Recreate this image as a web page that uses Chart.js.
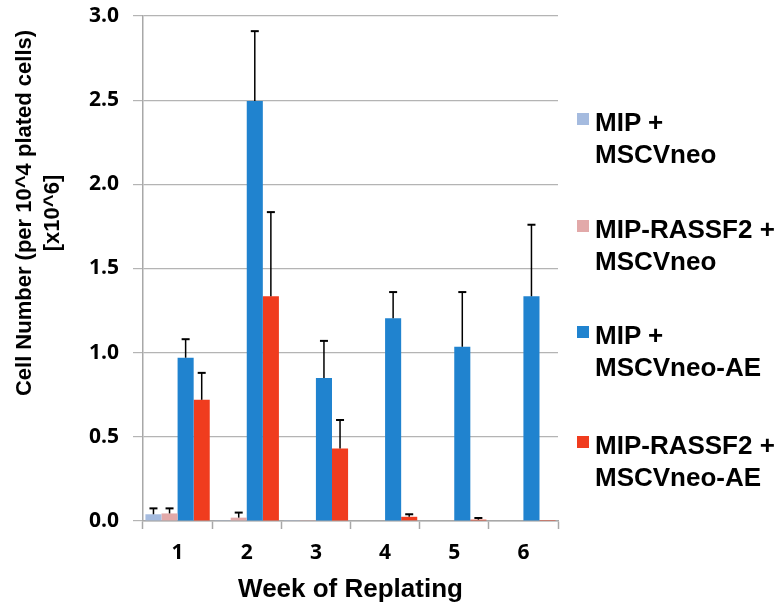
<!DOCTYPE html>
<html>
<head>
<meta charset="utf-8">
<script src="https://cdn.jsdelivr.net/npm/chart.js@4"></script>
<style>
  html, body { margin:0; padding:0; background:#fff; }
  #wrap { position:relative; width:779px; height:602px; }
  #legend { position:absolute; left:0; top:0; }
  .item { position:absolute; left:577px; }
  .sw { position:absolute; left:0; width:12px; height:12px; }
  .lbl { position:absolute; left:18px; font:bold 26px "Liberation Sans", Arial, sans-serif; line-height:32px; white-space:nowrap; color:#000; }
</style>
</head>
<body>
<div id="wrap">
  <canvas id="chart" width="779" height="602"></canvas>
  <div id="legend"></div>
</div>
<script>
// --- data ---
const weeks = ['1', '2', '3', '4', '5', '6'];
const seriesNames = [
  ['MIP +', 'MSCVneo'],
  ['MIP-RASSF2 +', 'MSCVneo'],
  ['MIP +', 'MSCVneo-AE'],
  ['MIP-RASSF2 +', 'MSCVneo-AE']
];
const yTitle = ['Cell Number (per 10^4 plated cells)', '[x10^6]'];
const colors = ['#a5bbdf', '#e2a9a9', '#2083cf', '#f03c1e'];

const mipNeo      = [0.04, 0.005, 0.002, 0, 0, 0];
const rassfNeo    = [0.045, 0.02, 0.005, 0, 0, 0];
const mipAE       = [0.97, 2.495, 0.85, 1.205, 1.035, 1.335];
const rassfAE     = [0.72, 1.335, 0.43, 0.025, 0.008, 0.006];

// upper error (SD)
const mipNeoErr   = [0.035, 0, 0, 0, 0, 0];
const rassfNeoErr = [0.03, 0.03, 0, 0, 0, 0];
const mipAEErr    = [0.11, 0.415, 0.22, 0.155, 0.325, 0.425];
const rassfAEErr  = [0.16, 0.50, 0.17, 0.015, 0.01, 0];

const values = [mipNeo, rassfNeo, mipAE, rassfAE];
const errors = [mipNeoErr, rassfNeoErr, mipAEErr, rassfAEErr];

// error bars, only the upper half like the original
const errorBars = {
  id: 'errorBars',
  afterDatasetsDraw(chart){
    const ctx = chart.ctx, y = chart.scales.y;
    ctx.save();
    ctx.strokeStyle = '#000';
    chart.data.datasets.forEach((ds, i) => {
      const meta = chart.getDatasetMeta(i);
      meta.data.forEach((bar, j) => {
        const e = errors[i][j];
        if (!e) return;
        const top = y.getPixelForValue(values[i][j] + e);
        ctx.lineWidth = 1.5;
        ctx.beginPath();
        ctx.moveTo(bar.x, bar.y);
        ctx.lineTo(bar.x, top);
        ctx.stroke();
        ctx.lineWidth = 2;
        ctx.beginPath();
        ctx.moveTo(bar.x - 4, top);
        ctx.lineTo(bar.x + 4, top);
        ctx.stroke();
      });
    });
    ctx.restore();
  }
};

// y title sits above the middle of the axis in the original, so draw it by hand
const yTitlePlugin = {
  id: 'yTitle',
  afterDraw(chart){
    const ctx = chart.ctx;
    ctx.save();
    ctx.translate(0, 213);
    ctx.rotate(-Math.PI / 2);
    ctx.font = 'bold 22px "Liberation Sans", Arial, sans-serif';
    ctx.fillStyle = '#000';
    ctx.textAlign = 'center';
    ctx.textBaseline = 'middle';
    yTitle.forEach((t, k) => ctx.fillText(t, 0, 25 + k * 28));
    ctx.restore();
  }
};

const tickFont = { family:'"Open Sans", sans-serif', weight:'bold', size:21 };
const titleFont = { family:'"Liberation Sans", Arial, sans-serif', weight:'bold' };

new Chart(document.getElementById('chart'), {
  type: 'bar',
  data: {
    labels: weeks,
    datasets: values.map((v, i) => ({
      label: seriesNames[i].join(' '),
      data: v,
      backgroundColor: colors[i],
      borderWidth: 0,
      categoryPercentage: 0.93,
      barPercentage: 1
    }))
  },
  options: {
    responsive: false,
    animation: false,
    layout: { padding: { top: 16, right: 221, bottom: 0, left: 0 } },
    plugins: { legend: { display:false }, tooltip: { enabled:false } },
    scales: {
      x: {
        grid: { offset:true, drawOnChartArea:false, color:'#a8a8a8', tickLength:8, tickWidth:1.5 },
        border: { color:'#a8a8a8', width:1.5 },
        ticks: { color:'#000', font: tickFont, padding:11 },
        title: { display:true, text:'Week of Replating', color:'#000',
                 font: { ...titleFont, size:26, lineHeight:0.9 }, padding:{ top:0, bottom:0 } },
        afterFit(s){ s.height = 81; s.paddingLeft = 0; s.paddingRight = 0; }
      },
      y: {
        min: 0, max: 3,
        grid: { color:'#b4b4b4', lineWidth:1.2, tickLength:10 },
        border: { color:'#a8a8a8', width:1.5 },
        ticks: { stepSize:0.5, color:'#000', font: tickFont, padding:14,
                 callback: v => v.toFixed(1) },
        afterFit(s){ s.width = 143; s.paddingTop = 0; s.paddingBottom = 0; }
      }
    }
  },
  plugins: [errorBars, yTitlePlugin]
});

// legend as html text, two lines per entry
const capTops = [113, 220, 326, 436];
const legend = document.getElementById('legend');
seriesNames.forEach((lines, i) => {
  const it = document.createElement('div');
  it.className = 'item';
  it.style.top = capTops[i] + 'px';
  it.innerHTML = '<div class="sw" style="background:' + colors[i] + '"></div>' +
    '<div class="lbl" style="top:-7px">' + lines.join('<br>') + '</div>';
  legend.appendChild(it);
});
</script>
</body>
</html>
